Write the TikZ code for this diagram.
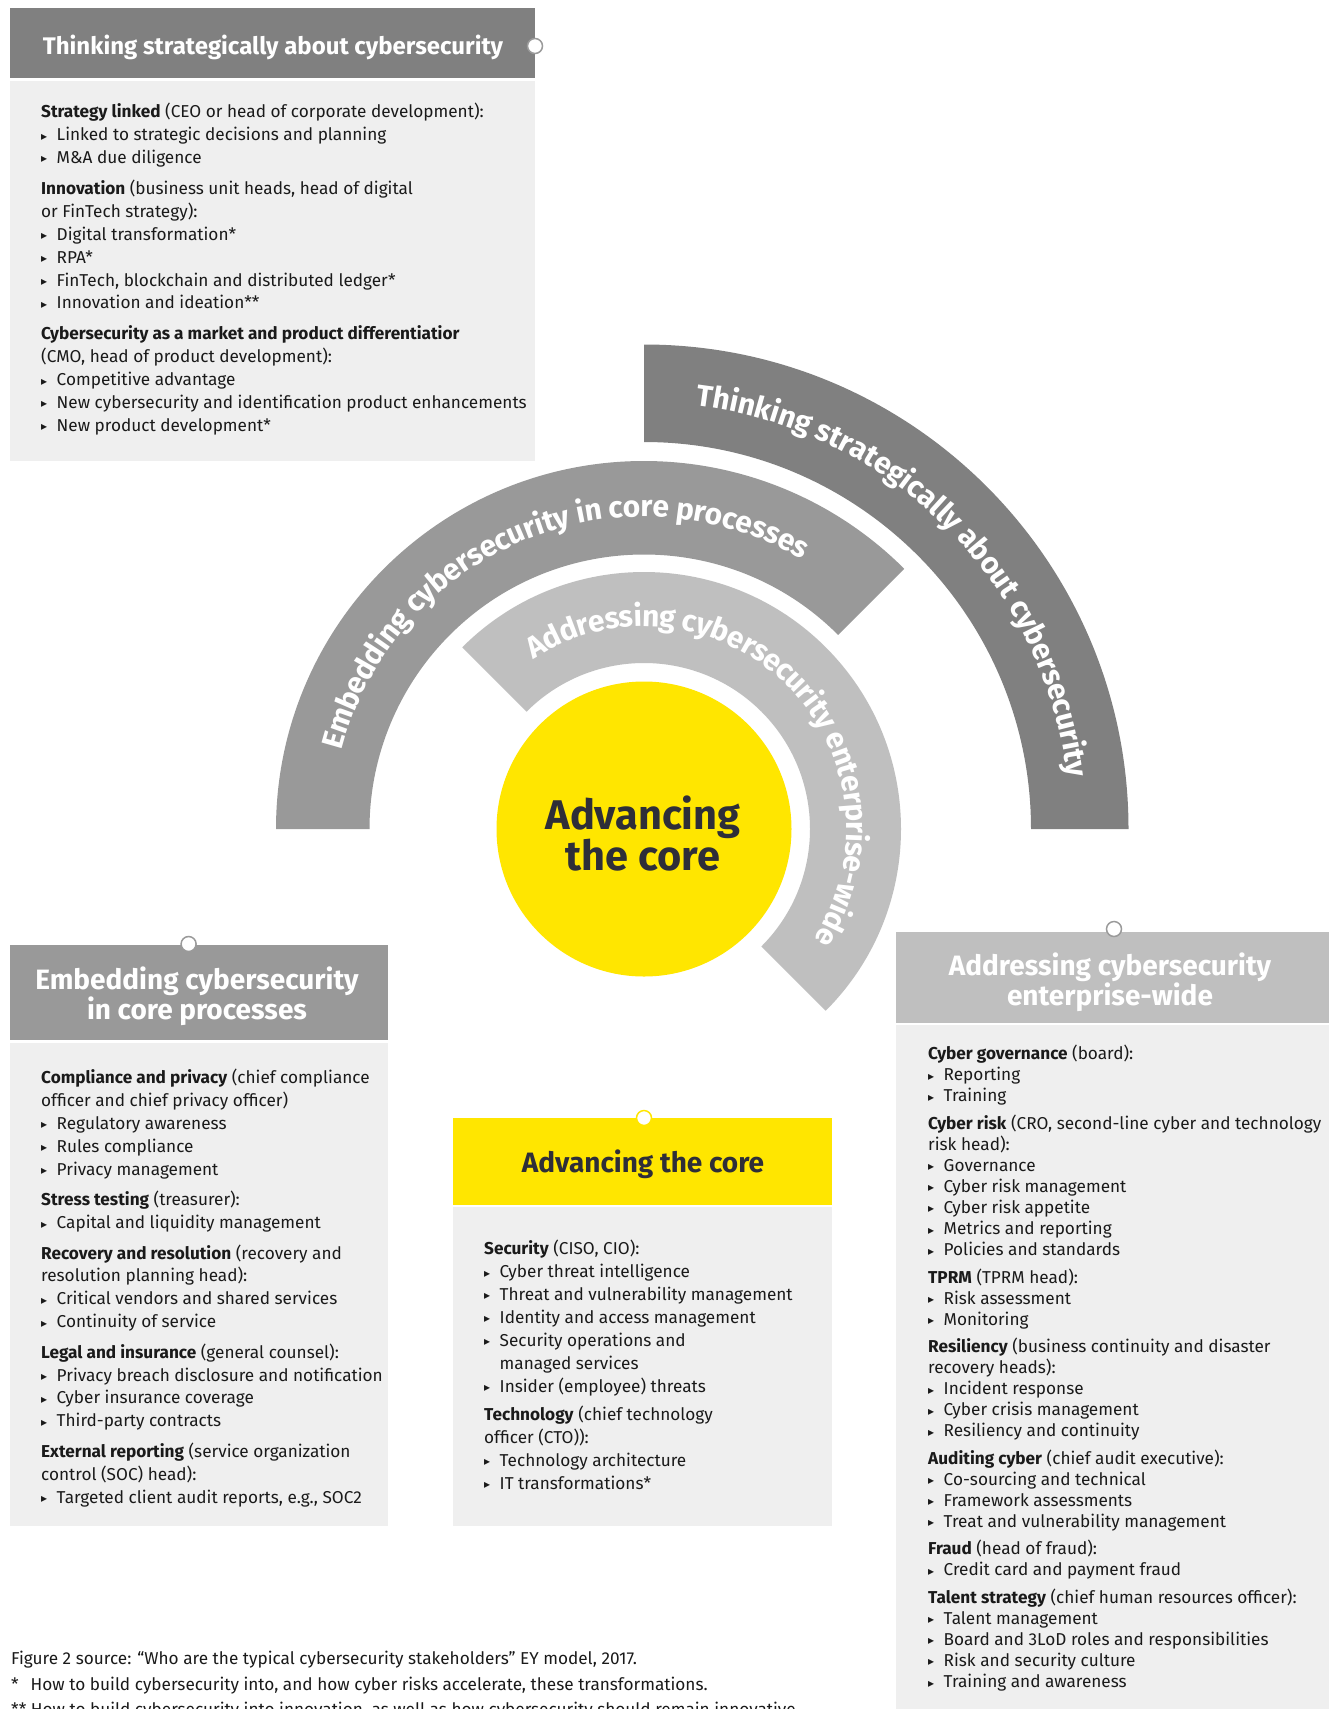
\documentclass[tikz,border=0pt]{standalone}
\usepackage{fontspec}
\setmainfont{Fira Sans}
\newfontfamily\symfont{DejaVu Sans}
\usetikzlibrary{decorations.text,calc}
\definecolor{eyyellow}{HTML}{FFE600}
\definecolor{darkgrey}{HTML}{808080}
\definecolor{midgrey}{HTML}{999999}
\definecolor{lightgrey}{HTML}{BFBFBF}
\definecolor{panel}{HTML}{EFEFEF}
\definecolor{ink}{HTML}{2E2E38}
\definecolor{bodyink}{HTML}{1A1A1A}
\definecolor{wire}{HTML}{9A9A9A}
\pgfdeclarelayer{wires}
\pgfsetlayers{wires,main}
\newcommand\bul{\makebox[15.5pt][l]{\raisebox{0.6pt}{\symfont\fontsize{12}{12}\selectfont ▸}}}
\newcommand\arcfont{\fontsize{30}{30}\selectfont\bfseries}
\tikzset{
  headbox/.style={rectangle, anchor=north west, inner sep=0pt},
  headtext/.style={inner sep=0pt, align=center, font=\fontsize{28}{30.5}\selectfont\bfseries},
  panelbox/.style={rectangle, anchor=north west, inner sep=0pt, fill=panel},
  bodytext/.style={anchor=north west, inner sep=0pt, align=left, text=bodyink,
    font=\fontsize{17.2}{22.9}\selectfont},
  dot/.style={circle, fill=white, draw=wire, line width=1.5pt, minimum size=15pt, inner sep=0pt},
  wireline/.style={draw=wire, line width=1.5pt},
  ringtext/.style={decorate, decoration={text along path, text align=center,
    text color=white, raise=-9pt, text={|\arcfont|#1}}},
  footnote/.style={anchor=base west, inner sep=0pt, text=bodyink,
    font=\fontsize{17.2}{17.2}\selectfont}
}
\begin{document}
\begin{tikzpicture}[x=1pt,y=-1pt]
\useasboundingbox (0,0) rectangle (1331,1709);
\fill[white] (0,0) rectangle (1331,1709);
\coordinate (c) at (644,829);

% concentric bands
\fill[lightgrey] ($(c)+(-135:257)$) arc[start angle=-135,end angle=45,radius=257]
  -- ($(c)+(45:166)$) arc[start angle=45,end angle=-135,radius=166] -- cycle;
\fill[midgrey] ($(c)+(-180:368)$) arc[start angle=-180,end angle=-45,radius=368]
  -- ($(c)+(-45:274.5)$) arc[start angle=-45,end angle=-180,radius=274.5] -- cycle;
\fill[darkgrey] ($(c)+(-90:484.5)$) arc[start angle=-90,end angle=0,radius=484.5]
  -- ($(c)+(0:387)$) arc[start angle=0,end angle=-90,radius=387] -- cycle;

\path[ringtext={Thinking strategically about cybersecurity}]
  ($(c)+(-90:435.75)$) arc[start angle=-90,end angle=0,radius=435.75];
\path[ringtext={Embedding cybersecurity in core processes}]
  ($(c)+(-180:321.25)$) arc[start angle=-180,end angle=-45,radius=321.25];
\path[ringtext={Addressing cybersecurity enterprise-wide}]
  ($(c)+(-135:211.5)$) arc[start angle=-135,end angle=45,radius=211.5];

% core circle
\node[circle, fill=eyyellow, minimum size=295pt, inner sep=0pt] (core) at (644,829) {};
\node[align=center, text=ink, inner sep=0pt,
  font=\fontsize{41.5}{41}\selectfont\bfseries] (coretext) at (643,834)
  {Advancing\\the core};

% header bars
\node[headbox, fill=darkgrey, minimum width=525pt, minimum height=70pt] (h1) at (10,8) {};
\node[headtext, text=white, font=\fontsize{24}{26}\selectfont\bfseries] (h1t) at (273,47)
  {Thinking strategically about cybersecurity};
\node[headbox, fill=midgrey, minimum width=378pt, minimum height=95pt] (h2) at (10,945) {};
\node[headtext, text=white] (h2t) at (197,996) {Embedding cybersecurity\\in core processes};
\node[headbox, fill=eyyellow, minimum width=379pt, minimum height=87pt] (h3) at (453,1118) {};
\node[headtext, text=ink] (h3t) at (643,1164) {Advancing the core};
\node[headbox, fill=lightgrey, minimum width=433pt, minimum height=91pt] (h4) at (896,932) {};
\node[headtext, text=white, font=\fontsize{28}{28}\selectfont\bfseries] (h4t) at (1110,982)
  {Addressing cybersecurity\\enterprise-wide};

% panels
\node[panelbox, minimum width=525pt, minimum height=380pt] (p1) at (10,81) {};
\node[panelbox, minimum width=378pt, minimum height=483pt] (p2) at (10,1043) {};
\node[panelbox, minimum width=379pt, minimum height=319pt] (p3) at (453,1207) {};
\node[panelbox, minimum width=433pt, minimum height=700pt] (p4) at (896,1025) {};

% connectors
\node[dot] (d1) at (535,46) {};
\node[dot] (d2) at (188.6,944) {};
\node[dot, draw=eyyellow] (d3) at (644,1118) {};
\node[dot] (d4) at (1114,929) {};
\coordinate (k1) at (784,46);
\coordinate (e1) at (784,385);
\coordinate (k2) at (188.6,717);
\coordinate (e2) at (310,717);
\coordinate (k4) at (1114,892);
\coordinate (e4) at (880,892);
\begin{pgfonlayer}{wires}
  \draw[wireline] (d1) -- (k1) -- (e1);
  \draw[wireline] (d2) -- (k2) -- (e2);
  \draw[wireline] (d4) -- (k4) -- (e4);
  \draw[draw=eyyellow, line width=1.5pt] (core) -- (d3);
\end{pgfonlayer}

% panel contents
\node[bodytext] (t1) at (41,101.5) {\strut\textbf{Strategy linked} (CEO or head of corporate development):\\
\bul Linked to strategic decisions and planning\\
\bul M\&A due diligence\\[8pt]
\textbf{Innovation} (business unit heads, head of digital\\
or FinTech strategy):\\
\bul Digital transformation*\\
\bul RPA*\\
\bul FinTech, blockchain and distributed ledger*\\
\bul Innovation and ideation**\\[8pt]
\textbf{Cybersecurity as a market and product differentiatior}\\
(CMO, head of product development):\\
\bul Competitive advantage\\
\bul New cybersecurity and identification product enhancements\\
\bul New product development*};

\node[bodytext] (t2) at (41,1067.5) {\strut\textbf{Compliance and privacy} (chief compliance\\
officer and chief privacy officer)\\
\bul Regulatory awareness\\
\bul Rules compliance\\
\bul Privacy management\\[7.5pt]
\textbf{Stress testing} (treasurer):\\
\bul Capital and liquidity management\\[7.5pt]
\textbf{Recovery and resolution} (recovery and\\
resolution planning head):\\
\bul Critical vendors and shared services\\
\bul Continuity of service\\[7.5pt]
\textbf{Legal and insurance} (general counsel):\\
\bul Privacy breach disclosure and notification\\
\bul Cyber insurance coverage\\
\bul Third-party contracts\\[7.5pt]
\textbf{External reporting} (service organization\\
control (SOC) head):\\
\bul Targeted client audit reports, e.g., SOC2};

\node[bodytext] (t3) at (484,1238.5) {\strut\textbf{Security} (CISO, CIO):\\
\bul Cyber threat intelligence\\
\bul Threat and vulnerability management\\
\bul Identity and access management\\
\bul Security operations and\\
\hspace*{15.5pt}managed services\\
\bul Insider (employee) threats\\[5.6pt]
\textbf{Technology} (chief technology\\
officer (CTO)):\\
\bul Technology architecture\\
\bul IT transformations*};

\node[bodytext, font=\fontsize{17.2}{21.1}\selectfont] (t4) at (928,1044.7) {\strut\textbf{Cyber governance} (board):\\
\bul Reporting\\
\bul Training\\[6.2pt]
\textbf{Cyber risk} (CRO, second-line cyber and technology\\
risk head):\\
\bul Governance\\
\bul Cyber risk management\\
\bul Cyber risk appetite\\
\bul Metrics and reporting\\
\bul Policies and standards\\[6.2pt]
\textbf{TPRM} (TPRM head):\\
\bul Risk assessment\\
\bul Monitoring\\[6.2pt]
\textbf{Resiliency} (business continuity and disaster\\
recovery heads):\\
\bul Incident response\\
\bul Cyber crisis management\\
\bul Resiliency and continuity\\[6.2pt]
\textbf{Auditing cyber} (chief audit executive):\\
\bul Co-sourcing and technical\\
\bul Framework assessments\\
\bul Treat and vulnerability management\\[6.2pt]
\textbf{Fraud} (head of fraud):\\
\bul Credit card and payment fraud\\[6.2pt]
\textbf{Talent strategy} (chief human resources officer):\\
\bul Talent management\\
\bul Board and 3LoD roles and responsibilities\\
\bul Risk and security culture\\
\bul Training and awareness};

% source notes
\node[footnote] (f1) at (11,1664)
  {Figure 2 source: “Who are the typical cybersecurity stakeholders” EY model, 2017.};
\node[footnote] (f2) at (11,1690)
  {*\hspace{12pt}How to build cybersecurity into, and how cyber risks accelerate, these transformations.};
\node[footnote] (f3) at (11,1715)
  {** How to build cybersecurity into innovation, as well as how cybersecurity should remain innovative.};
\end{tikzpicture}
\end{document}
